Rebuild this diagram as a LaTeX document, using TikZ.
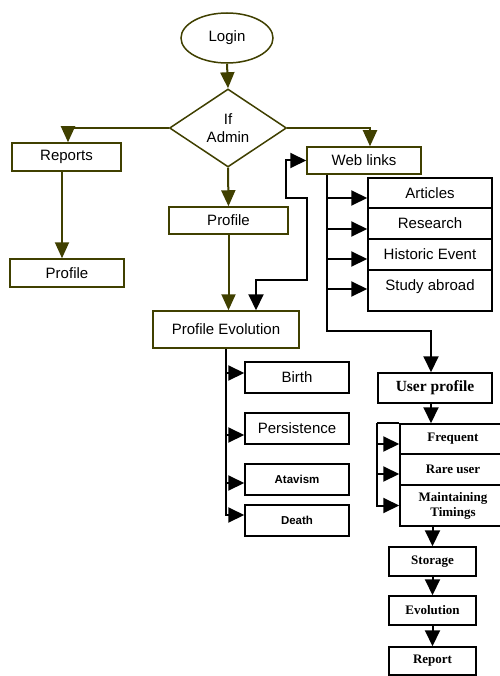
\documentclass[tikz,border=0pt]{standalone}
\usepackage{fontspec}
\setmainfont{Liberation Sans}
\newfontfamily\timesfont{Liberation Serif}
\usetikzlibrary{shapes.geometric,arrows.meta,calc}
\definecolor{darkolive}{RGB}{64,64,0}

\begin{document}
\begin{tikzpicture}[x=1pt,y=-1pt,
  oline/.style={draw=darkolive,line width=2pt},
  oarr/.style={oline,-{Triangle[length=16pt,width=14pt]}},
  bline/.style={draw=black,line width=2pt},
  barr/.style={bline,-{Triangle[length=16pt,width=15pt]}},
  obox/.style={rectangle,draw=darkolive,line width=1.5pt,inner sep=0pt,font=\fontsize{15}{18}\selectfont},
  bbox/.style={rectangle,draw=black,line width=1.5pt,inner sep=0pt,font=\fontsize{15}{18}\selectfont},
  tbox/.style={bbox,font=\timesfont\bfseries\fontsize{13}{15}\selectfont,align=center}]
\useasboundingbox[fill=white] (0,0) rectangle (499,676);

\node[ellipse,draw=darkolive,line width=1.5pt,minimum width=92pt,minimum height=50pt,inner sep=0pt,font=\fontsize{15}{18}\selectfont] (login) at (227,38) {Login};
\node[diamond,draw=darkolive,line width=1.5pt,minimum width=117pt,minimum height=78pt,inner sep=0pt,align=center,font=\fontsize{15}{18}\selectfont] (admin) at (228,128) {If\\Admin};

\node[obox,minimum width=109pt,minimum height=28pt] (reports) at (66.5,157) {Reports};
\node[obox,minimum width=114pt,minimum height=28pt] (repprofile) at (67,273) {Profile};
\node[obox,minimum width=119pt,minimum height=27pt] (profile) at (228.5,220.5) {Profile};
\node[obox,minimum width=146pt,minimum height=37pt] (profevol) at (226,329.5) {Profile Evolution};
\node[obox,minimum width=114pt,minimum height=27pt] (weblinks) at (364,160.5) {Web links};

\node[bbox,minimum width=124pt,minimum height=30pt] (articles) at (430,193) {Articles};
\node[bbox,minimum width=124pt,minimum height=31pt] (research) at (430,223.5) {Research};
\node[bbox,minimum width=124pt,minimum height=31pt] (historic) at (430,254.5) {Historic Event};
\node[bbox,minimum width=124pt,minimum height=41pt,text height=15pt,text depth=16pt] (abroad) at (430,290.5) {Study abroad};

\node[bbox,minimum width=104pt,minimum height=31pt] (birth) at (297,377.5) {Birth};
\node[bbox,minimum width=104pt,minimum height=31pt] (persistence) at (297,428.5) {Persistence};
\node[bbox,minimum width=104pt,minimum height=31pt,font=\bfseries\fontsize{11.5}{14}\selectfont] (atavism) at (297,479.5) {Atavism};
\node[bbox,minimum width=104pt,minimum height=31pt,font=\bfseries\fontsize{11.5}{14}\selectfont] (death) at (297,520.5) {Death};

\node[tbox,minimum width=114pt,minimum height=30pt,font=\timesfont\bfseries\fontsize{15.5}{18}\selectfont] (userprofile) at (435,388) {User profile};
\node[tbox,minimum width=106pt,minimum height=30pt] (frequent) at (453,439) {Frequent};
\node[tbox,minimum width=106pt,minimum height=31pt] (rareuser) at (453,469.5) {Rare user};
\node[tbox,minimum width=106pt,minimum height=41pt] (timings) at (453,505.5) {Maintaining\\Timings};
\node[tbox,minimum width=87pt,minimum height=29pt] (storage) at (432.5,561.5) {Storage};
\node[tbox,minimum width=87pt,minimum height=29pt] (evolution) at (432.5,610.5) {Evolution};
\node[tbox,minimum width=87pt,minimum height=28pt] (report) at (432.5,661) {Report};

\draw[oarr] (login.south) -- (admin.north);
\draw[oarr] (admin.west) -| ($(reports.north)+(1.5,0)$);
\draw[oarr] (admin.east) -| ($(weblinks.north)+(6,0)$);
\draw[oarr] (admin.south) -- (profile.north);
\draw[oarr] ($(reports.south)+(-4.5,0)$) -- ($(reports.south |- repprofile.north)+(-4.5,0)$);
\draw[oarr] (profile.south) -- (profile.south |- profevol.north);

\draw[bline,{Triangle[length=16pt,width=15pt]}-{Triangle[length=16pt,width=15pt]}] ($(profevol.north)+(30,0)$) |- (307,280) |- (286,198) |- (weblinks.west);

\coordinate (wtrunk) at ($(weblinks.south west)+(21,0)$);
\draw[barr] (wtrunk) |- (431,331) -- ($(userprofile.north)+(-4,0)$);
\draw[barr] ($(wtrunk |- articles.west)+(0,5)$) -- ($(articles.west)+(0,5)$);
\draw[barr] ($(wtrunk |- research.west)+(0,5.5)$) -- ($(research.west)+(0,5.5)$);
\draw[barr] ($(wtrunk |- historic.west)+(0,4.5)$) -- ($(historic.west)+(0,4.5)$);
\draw[barr] ($(wtrunk |- abroad.west)+(0,-1.5)$) -- ($(abroad.west)+(0,-1.5)$);

\draw[barr] (profevol.south) |- ($(death.west)+(0,-5.5)$);
\draw[barr] ($(profevol.south |- birth.west)+(0,-4.5)$) -- ($(birth.west)+(0,-4.5)$);
\draw[barr] ($(profevol.south |- persistence.west)+(0,6.5)$) -- ($(persistence.west)+(0,6.5)$);
\draw[barr] ($(profevol.south |- atavism.west)+(0,3.5)$) -- ($(atavism.west)+(0,3.5)$);

\draw[barr] ($(userprofile.south)+(-4,0)$) -- ($(frequent.north)+(-22,0)$);
\coordinate (fcorner) at ($(frequent.north west)+(-22,0)$);
\draw[bline] (frequent.north west) -- (fcorner);
\draw[barr] (fcorner) |- (timings.west);
\draw[barr] ($(fcorner |- frequent.west)+(0,5)$) -- ($(frequent.west)+(0,5)$);
\draw[barr] ($(fcorner |- rareuser.west)+(0,4.5)$) -- ($(rareuser.west)+(0,4.5)$);
\draw[barr] ($(timings.south)+(-20.5,0)$) -- (storage.north);
\draw[barr] (storage.south) -- (evolution.north);
\draw[barr] (evolution.south) -- (report.north);

\end{tikzpicture}
\end{document}
